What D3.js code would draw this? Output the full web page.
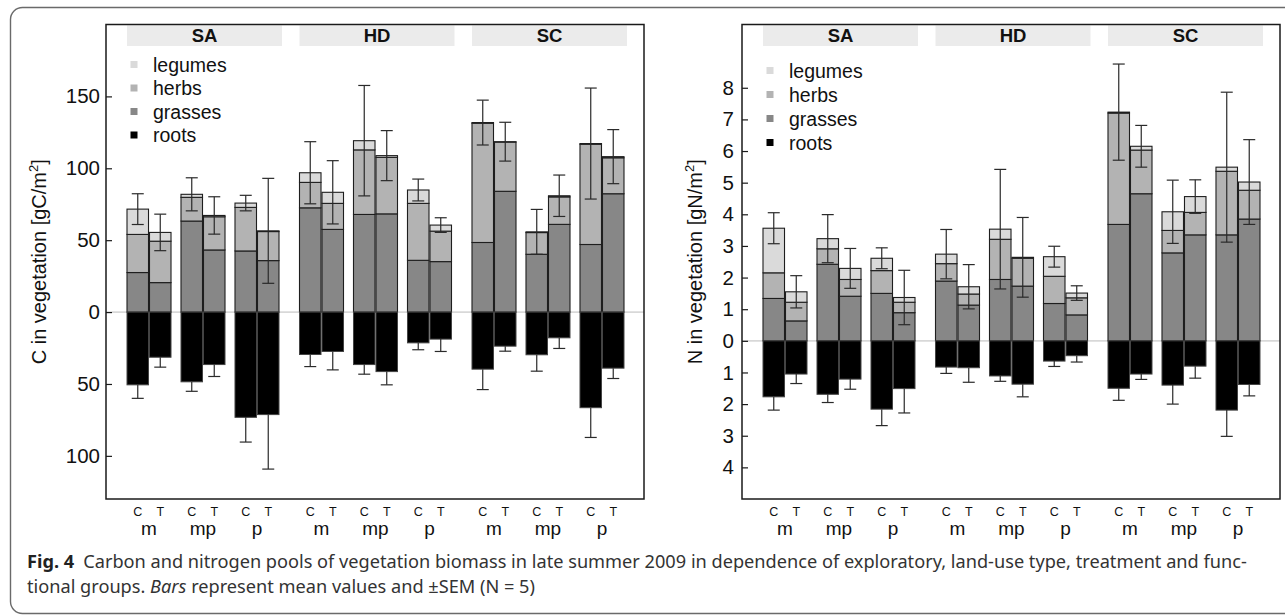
<!DOCTYPE html>
<html>
<head>
<meta charset="utf-8">
<script src="https://cdn.jsdelivr.net/npm/d3@7"></script>
<style>
  html, body { margin: 0; padding: 0; background: #fff; }
  svg { display: block; }
</style>
</head>
<body>
<script>
// ---------- DATA ----------
const exploratories = ["SA", "HD", "SC"];
const landUses = ["m", "mp", "p"];
const treatments = ["C", "T"];
const groups = ["legumes", "herbs", "grasses", "roots"];
const groupColors = ["#dadada", "#b3b3b3", "#878787", "#000000"];

// order: SA m C, SA m T, SA mp C, SA mp T, SA p C, SA p T, HD ..., SC ...
const cGrasses  = [27.5, 20.5, 63.3, 43.2, 42.5, 35.8, 72.5, 57.5, 67.9, 68.3, 36.0, 35.1, 48.4, 84.0, 40.2, 61.0, 47.0, 82.3];
const cHerbs    = [26.5, 28.8, 16.5, 23.1, 30.3, 20.2, 17.7, 18.1, 44.9, 39.3, 39.6, 21.2, 82.9, 34.2, 15.1, 19.1, 69.7, 25.0];
const cLegumes  = [17.6, 6.1, 2.1, 0.9, 3.0, 0.5, 6.7, 7.7, 6.4, 1.2, 9.3, 4.2, 0.5, 0.3, 0.5, 0.8, 0.5, 0.8];
const cShootSem = [10.7, 12.7, 11.5, 13.0, 5.4, 36.5, 21.6, 22.0, 38.4, 17.4, 7.6, 5.1, 15.6, 13.5, 15.6, 14.4, 38.6, 18.8];
const cRoots    = [50.6, 31.4, 48.5, 36.5, 73.2, 71.3, 29.5, 27.4, 36.5, 41.4, 21.4, 18.8, 39.7, 23.7, 29.7, 17.9, 66.5, 39.0];
const cRootSem  = [9.4, 6.9, 6.6, 8.3, 17.2, 37.9, 8.4, 12.8, 6.7, 9.2, 4.8, 8.6, 14.2, 3.5, 11.4, 7.4, 20.7, 7.2];
const cTicks    = [-100, -50, 0, 50, 100, 150];

const nGrasses  = [1.34, 0.63, 2.42, 1.41, 1.50, 0.89, 1.89, 1.13, 1.94, 1.73, 1.18, 0.82, 3.68, 4.65, 2.78, 3.35, 3.35, 3.85];
const nHerbs    = [0.81, 0.59, 0.49, 0.53, 0.72, 0.33, 0.55, 0.35, 1.27, 0.88, 0.86, 0.54, 3.52, 1.38, 0.71, 0.71, 2.01, 0.91];
const nLegumes  = [1.41, 0.33, 0.32, 0.35, 0.39, 0.15, 0.30, 0.23, 0.32, 0.03, 0.62, 0.15, 0.03, 0.12, 0.59, 0.50, 0.13, 0.26];
const nShootSem = [0.49, 0.51, 0.76, 0.63, 0.33, 0.86, 0.78, 0.70, 1.89, 1.26, 0.33, 0.23, 1.52, 0.66, 1.00, 0.53, 2.37, 1.34];
const nRoots    = [1.77, 1.05, 1.69, 1.21, 2.16, 1.51, 0.83, 0.85, 1.11, 1.37, 0.64, 0.47, 1.50, 1.05, 1.40, 0.80, 2.19, 1.38];
const nRootSem  = [0.42, 0.30, 0.26, 0.32, 0.52, 0.77, 0.20, 0.46, 0.17, 0.40, 0.17, 0.20, 0.38, 0.17, 0.60, 0.38, 0.83, 0.36];
const nTicks    = [-4, -3, -2, -1, 0, 1, 2, 3, 4, 5, 6, 7, 8];

const captionBold = "Fig. 4";
const captionLine1 = "Carbon and nitrogen pools of vegetation biomass in late summer 2009 in dependence of exploratory, land-use type, treatment and func-";
const captionLine2a = "tional groups. ";
const captionLine2b = "Bars";
const captionLine2c = " represent mean values and \u00B1SEM (N = 5)";

// ---------- DRAW ----------
const W = 1285, H = 615;
const svg = d3.select("body").append("svg").attr("width", W).attr("height", H);
const FONT = "'Liberation Sans', Arial, Helvetica, sans-serif";

svg.append("rect")
  .attr("x", 10.5).attr("y", 7.5).attr("width", W + 20).attr("height", 606)
  .attr("rx", 12).attr("ry", 12)
  .attr("fill", "none").attr("stroke", "#6a6a6a").attr("stroke-width", 1.4);

function rows(grasses, herbs, legumes, sem, roots, rootSem) {
  const out = [];
  let i = 0;
  exploratories.forEach(e => landUses.forEach(l => treatments.forEach(t => {
    out.push({ e, l, t, grasses: grasses[i], herbs: herbs[i], legumes: legumes[i],
               sem: sem[i], roots: roots[i], rootSem: rootSem[i] });
    i++;
  })));
  return out;
}

function drawPanel(cfg) {
  const g = svg.append("g");
  const x0 = cfg.frameX, x1 = cfg.frameX + 538, yTop = 24.5, yBot = 499;
  const y = d3.scaleLinear().domain(cfg.domain).range([yBot, yTop]);

  const xE = d3.scaleBand().domain(exploratories).range([x0 + 21, x0 + 521]).paddingInner(0.1014).paddingOuter(0);
  const xL = d3.scaleBand().domain(landUses).range([0, 152]).paddingInner(0.185).paddingOuter(0);
  const xT = d3.scaleBand().domain(treatments).range([0, xL.bandwidth()]).paddingInner(0.044).paddingOuter(0);
  const bx = d => xE(d.e) + xL(d.l) + xT(d.t);
  const bw = xT.bandwidth();

  // strips
  exploratories.forEach(e => {
    g.append("rect").attr("x", xE(e)).attr("y", yTop + 1).attr("width", xE.bandwidth()).attr("height", 20.5)
      .attr("fill", "#ebebeb");
    g.append("text").attr("x", xE(e) + xE.bandwidth() / 2).attr("y", yTop + 17.5)
      .attr("text-anchor", "middle").attr("font-family", FONT).attr("font-weight", "bold")
      .attr("font-size", 18.5).attr("fill", "#111").text(e);
  });

  // zero line
  g.append("line").attr("x1", x0).attr("x2", x1).attr("y1", y(0)).attr("y2", y(0))
    .attr("stroke", "#d8d8d8").attr("stroke-width", 1.6);

  const data = cfg.data;
  const stroke = "#1e1e1e";
  // shoot stacks
  data.forEach(d => {
    const segs = [
      { lo: 0, hi: d.grasses, c: groupColors[2] },
      { lo: d.grasses, hi: d.grasses + d.herbs, c: groupColors[1] },
      { lo: d.grasses + d.herbs, hi: d.grasses + d.herbs + d.legumes, c: groupColors[0] }
    ];
    segs.forEach(s => {
      g.append("rect").attr("x", bx(d)).attr("width", bw)
        .attr("y", y(s.hi)).attr("height", y(s.lo) - y(s.hi))
        .attr("fill", s.c).attr("stroke", stroke).attr("stroke-width", 1.1);
    });
    g.append("rect").attr("x", bx(d)).attr("width", bw)
      .attr("y", y(0)).attr("height", y(-d.roots) - y(0))
      .attr("fill", groupColors[3]).attr("stroke", "#444").attr("stroke-width", 1);
  });

  // error bars
  const cap = 6;
  data.forEach(d => {
    const cx = bx(d) + bw / 2;
    const tot = d.grasses + d.herbs + d.legumes;
    const eg = g.append("g").attr("stroke", "#2a2a2a").attr("stroke-width", 1.2);
    eg.append("line").attr("x1", cx).attr("x2", cx).attr("y1", y(tot + d.sem)).attr("y2", y(tot - d.sem));
    eg.append("line").attr("x1", cx - cap).attr("x2", cx + cap).attr("y1", y(tot + d.sem)).attr("y2", y(tot + d.sem));
    eg.append("line").attr("x1", cx - cap).attr("x2", cx + cap).attr("y1", y(tot - d.sem)).attr("y2", y(tot - d.sem));
    eg.append("line").attr("x1", cx).attr("x2", cx).attr("y1", y(-d.roots)).attr("y2", y(-d.roots - d.rootSem));
    eg.append("line").attr("x1", cx - cap).attr("x2", cx + cap).attr("y1", y(-d.roots - d.rootSem)).attr("y2", y(-d.roots - d.rootSem));
  });

  // frame
  g.append("rect").attr("x", x0).attr("y", yTop).attr("width", x1 - x0).attr("height", yBot - yTop)
    .attr("fill", "none").attr("stroke", "#1a1a1a").attr("stroke-width", 1.5);

  // y axis
  const ax = g.append("g").attr("transform", `translate(${x0},0)`)
    .call(d3.axisLeft(y).tickValues(cfg.ticks).tickFormat(v => Math.abs(v)).tickSize(-6).tickPadding(cfg.pad));
  ax.select(".domain").remove();
  ax.selectAll("line").attr("stroke", "#1a1a1a").attr("stroke-width", 1.2);
  ax.selectAll("text").attr("font-family", FONT).attr("font-size", 20.5).attr("fill", "#111");

  // y title
  const tt = g.append("text").attr("transform", `translate(${cfg.titleX},${(yTop + yBot) / 2}) rotate(-90)`)
    .attr("text-anchor", "middle").attr("font-family", FONT).attr("font-size", 20).attr("fill", "#111");
  tt.append("tspan").text(cfg.title + " [" + cfg.unit + "/m");
  tt.append("tspan").attr("font-size", 13).attr("dy", -8).text("2");
  tt.append("tspan").attr("dy", 8).text("]");

  // x labels
  data.forEach(d => {
    g.append("text").attr("x", bx(d) + bw / 2).attr("y", 516).attr("text-anchor", "middle")
      .attr("font-family", FONT).attr("font-size", 12.5).attr("fill", "#111").text(d.t);
  });
  exploratories.forEach(e => landUses.forEach(l => {
    g.append("text").attr("x", xE(e) + xL(l) + xL.bandwidth() / 2).attr("y", 535).attr("text-anchor", "middle")
      .attr("font-family", FONT).attr("font-size", 19).attr("fill", "#111").text(l);
  }));

  // legend
  groups.forEach((name, i) => {
    const ly = cfg.legendY + i * cfg.legendStep;
    g.append("rect").attr("x", x0 + 24.5).attr("y", ly - 4).attr("width", 7).attr("height", 7)
      .attr("fill", groupColors[i]);
    g.append("text").attr("x", x0 + 47).attr("y", ly + 6.5).attr("font-family", FONT)
      .attr("font-size", 19.5).attr("fill", "#111").text(name);
  });
}

drawPanel({
  frameX: 106, domain: [-130, 200], ticks: cTicks, pad: 6, titleX: 46,
  title: "C in vegetation", unit: "gC", legendY: 65, legendStep: 23.5,
  data: rows(cGrasses, cHerbs, cLegumes, cShootSem, cRoots, cRootSem)
});
drawPanel({
  frameX: 742, domain: [-5, 10], ticks: nTicks, pad: 8, titleX: 702,
  title: "N in vegetation", unit: "gN", legendY: 71, legendStep: 24,
  data: rows(nGrasses, nHerbs, nLegumes, nShootSem, nRoots, nRootSem)
});

// caption
const CF = "'Noto Sans', 'Open Sans', sans-serif";
const cap1 = svg.append("text").attr("x", 27).attr("y", 568).attr("font-family", CF).attr("font-size", 16).attr("fill", "#333");
cap1.append("tspan").attr("font-weight", "bold").attr("fill", "#222").text(captionBold);
cap1.append("tspan").text("\u2002" + captionLine1);
const cap2 = svg.append("text").attr("x", 27).attr("y", 593).attr("font-family", CF).attr("font-size", 16).attr("fill", "#333");
cap2.append("tspan").text(captionLine2a);
cap2.append("tspan").attr("font-style", "italic").text(captionLine2b);
cap2.append("tspan").text(captionLine2c);
// fit caption line 1 to the reference width
const target = 1248 - 27;
const len = cap1.node().getComputedTextLength();
const fs = 16 * target / len;
cap1.attr("font-size", fs);
cap2.attr("font-size", fs);
</script>
</body>
</html>
